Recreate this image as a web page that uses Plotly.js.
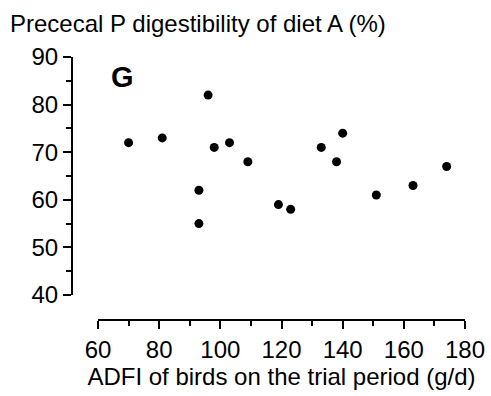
<!DOCTYPE html>
<html>
<head>
<meta charset="utf-8">
<script src="https://cdn.plot.ly/plotly-3.0.1.min.js"></script>
<style>html,body{margin:0;padding:0;background:#fff;}#chart{width:491px;height:396px;}</style>
</head>
<body>
<div id="chart"></div>
<script>
// Data
const adfi = [70, 81, 96, 98, 103, 93, 93, 109, 119, 123, 133, 140, 138, 151, 163, 174];
const digestibility = [72, 73, 82, 71, 72, 62, 55, 68, 59, 58, 71, 74, 68, 61, 63, 67];
const xTickVals = [60, 80, 100, 120, 140, 160, 180];
const yTickVals = [40, 50, 60, 70, 80, 90];
const titleText = "Prececal P digestibility of diet A (%)";
const xTitleText = "ADFI of birds on the trial period (g/d)";
const panelLabel = "G";

const FONT = "Arial, 'Liberation Sans', Helvetica, sans-serif";
const W = 491, H = 396;
const L = 72, R = 26, T = 57, B = 76;
const plotW = W - L - R, plotH = H - T - B;

const trace = {
  x: adfi, y: digestibility, type: 'scatter', mode: 'markers',
  marker: {color: '#000', size: 9},
  hoverinfo: 'x+y', showlegend: false
};

const layout = {
  width: W, height: H,
  margin: {l: L, r: R, t: T, b: B, pad: 0},
  paper_bgcolor: '#fff', plot_bgcolor: '#fff',
  font: {family: FONT, size: 24, color: '#000'},
  showlegend: false,
  xaxis: {
    range: [60, 180], domain: [(98 - L) / plotW, 1],
    anchor: 'free', position: 0,
    tickvals: xTickVals, ticktext: xTickVals.map(String),
    showgrid: false, zeroline: false,
    showline: true, linecolor: '#000', linewidth: 2,
    ticks: 'outside', ticklen: 8, tickwidth: 2, tickcolor: '#000',
    minor: {dtick: 10, tick0: 0, ticks: 'outside', ticklen: 5, tickwidth: 2, tickcolor: '#000', showgrid: false},
    tickfont: {family: FONT, size: 24, color: '#000'},
    title: {text: xTitleText, font: {family: FONT, size: 24, color: '#000'}, standoff: 3},
    fixedrange: true
  },
  yaxis: {
    range: [40, 90], domain: [(320 - 295) / plotH, 1],
    anchor: 'free', position: 0,
    tickvals: yTickVals, ticktext: yTickVals.map(String),
    showgrid: false, zeroline: false,
    showline: true, linecolor: '#000', linewidth: 2,
    ticks: 'outside', ticklen: 8, tickwidth: 2, tickcolor: '#000',
    minor: {dtick: 5, tick0: 0, ticks: 'outside', ticklen: 5, tickwidth: 2, tickcolor: '#000', showgrid: false},
    tickfont: {family: FONT, size: 24, color: '#000'},
    fixedrange: true
  },
  annotations: [{
    text: titleText, xref: 'paper', yref: 'paper',
    x: (8 - L) / plotW, xanchor: 'left',
    y: 1 + (T - 23) / plotH, yanchor: 'middle',
    showarrow: false, font: {family: FONT, size: 24, color: '#000'}
  }, {
    text: '<b>' + panelLabel + '</b>', xref: 'paper', yref: 'paper',
    x: (109 - L) / plotW, xanchor: 'left',
    y: 1 - (59 - T) / plotH, yanchor: 'top',
    showarrow: false, font: {family: FONT, size: 29, color: '#000'}
  }]
};

Plotly.newPlot('chart', [trace], layout, {displayModeBar: false, staticPlot: true});
</script>
</body>
</html>
